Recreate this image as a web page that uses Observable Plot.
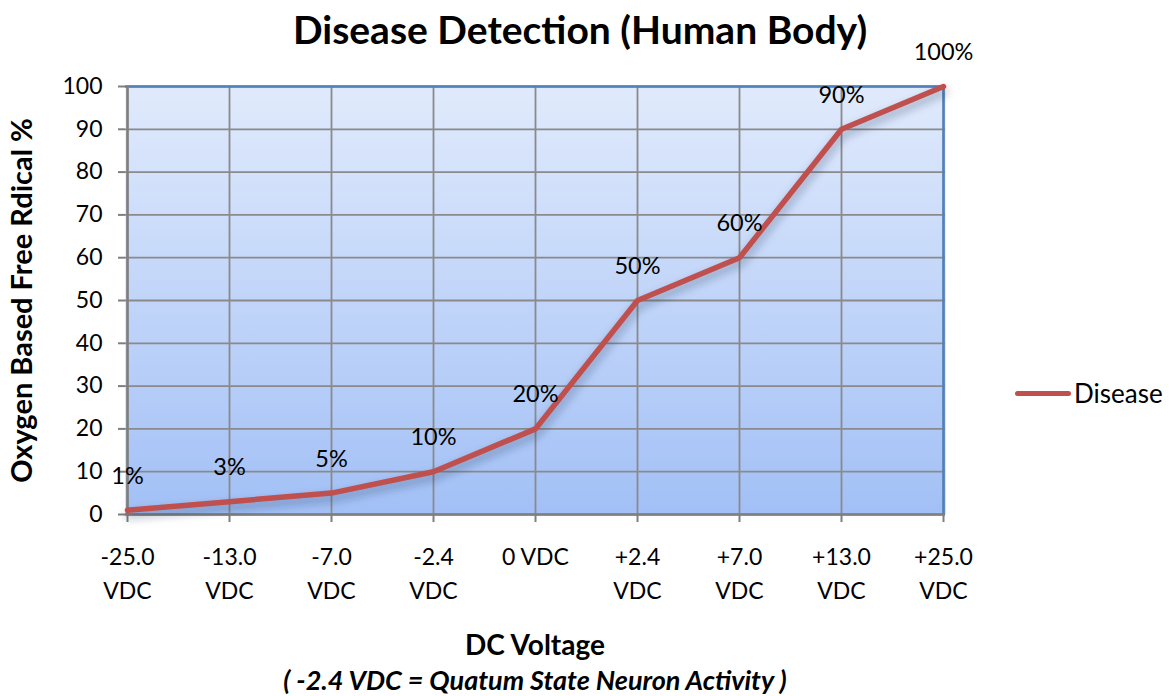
<!DOCTYPE html>
<html><head><meta charset="utf-8">
<script src="https://cdn.jsdelivr.net/npm/d3@7"></script>
<script src="https://cdn.jsdelivr.net/npm/@observablehq/plot@0.6"></script>
<style>
body{margin:0;background:#fff;font-family:Lato,"Open Sans",sans-serif;}
#wrap{position:relative;width:1169px;height:696px;overflow:hidden;}
.t{position:absolute;white-space:nowrap;color:#000;line-height:1;}
</style></head>
<body><div id="wrap">
<div class="t" id="title" style="left:0;width:1160px;text-align:center;top:10px;font-size:39px;font-weight:bold;">Disease Detection (Human Body)</div>
<div class="t" style="left:0;width:1070px;text-align:center;top:630px;font-size:28px;font-weight:bold;">DC Voltage</div>
<div class="t" style="left:0;width:1070px;text-align:center;top:666px;font-size:27px;font-weight:bold;font-style:italic;">( -2.4 VDC = Quatum State Neuron Activity )</div>
<div class="t" style="left:1015px;top:391px;width:56px;height:5px;background:#c0504d;border-radius:3px;"></div>
<div class="t" style="left:1074px;top:380px;font-size:26px;">Disease</div>
</div>
<script>
const categories = ["-25.0\nVDC","-13.0\nVDC","-7.0\nVDC","-2.4\nVDC","0 VDC","+2.4\nVDC","+7.0\nVDC","+13.0\nVDC","+25.0\nVDC"];
const values = [1,3,5,10,20,50,60,90,100];
const labels = ["1%","3%","5%","10%","20%","50%","60%","90%","100%"];
const yTicks = [0,10,20,30,40,50,60,70,80,90,100];
const yTitle = "Oxygen Based Free Rdical %";

const data = categories.map((c,i)=>({cat:c, v:values[i], label:labels[i]}));

const chart = Plot.plot({
  width:1169, height:696,
  marginLeft:125, marginRight:224, marginTop:86, marginBottom:182,
  style:{fontFamily:"Lato, 'Open Sans', sans-serif", fontSize:"23px", color:"#000", background:"transparent", overflow:"visible"},
  x:{type:"point", domain:categories, padding:0, label:null},
  y:{domain:[0,100], label:null},
  marks:[
    Plot.frame({fill:"url(#bggrad)", stroke:"none"}),
    Plot.ruleY(yTicks, {stroke:"#8a8a8a", strokeWidth:1.8}),
    Plot.ruleX(categories, {stroke:"#8a8a8a", strokeWidth:1.8}),
    Plot.ruleY([100], {stroke:"#4f81bd", strokeWidth:2.5}),
    Plot.ruleX([categories[categories.length-1]], {stroke:"#4f81bd", strokeWidth:2.5}),
    Plot.ruleX([categories[0]], {stroke:"#7f7f7f", strokeWidth:2.5}),
    Plot.ruleY([0], {stroke:"#7f7f7f", strokeWidth:2.5}),
    Plot.axisY({ticks:yTicks, tickSize:7, tickPadding:16, stroke:"#7f7f7f", strokeWidth:2, fontSize:23, label:null}),
    Plot.axisX({tickSize:8, tickPadding:19, stroke:"#7f7f7f", strokeWidth:2, fontSize:23, lineHeight:1.45, label:null}),
    Plot.line(data, {x:"cat", y:"v", stroke:"#1f2d4a", strokeWidth:6, strokeOpacity:0.35, dy:5, dx:1}),
    Plot.line(data, {x:"cat", y:"v", stroke:"#c0504d", strokeWidth:5.5, strokeLinejoin:"miter"}),
    Plot.text(data, {x:"cat", y:"v", text:"label", dy:-34, fontSize:23.5, fill:"#000"}),
    Plot.text([yTitle], {frameAnchor:"left", text:d=>d, rotate:-90, textAnchor:"middle", dx:-103, fontSize:29, fontWeight:"bold", fill:"#000"})
  ]
});
const svg = d3.select(chart);
const defs = svg.insert("defs", ":first-child");
const g = defs.append("linearGradient").attr("id","bggrad").attr("x1",0).attr("y1",0).attr("x2",0).attr("y2",1);
g.append("stop").attr("offset","0%").attr("stop-color","#e0eafc");
g.append("stop").attr("offset","100%").attr("stop-color","#a2c0f6");
const f = defs.append("filter").attr("id","blur").attr("x","-10%").attr("y","-10%").attr("width","120%").attr("height","120%");
f.append("feGaussianBlur").attr("stdDeviation",4);
const lines = svg.selectAll("g[aria-label=line]").nodes();
if (lines.length) d3.select(lines[0]).attr("filter","url(#blur)");
chart.style.position="absolute"; chart.style.left="0"; chart.style.top="0";
document.getElementById("wrap").prepend(chart);
</script>
</body></html>
